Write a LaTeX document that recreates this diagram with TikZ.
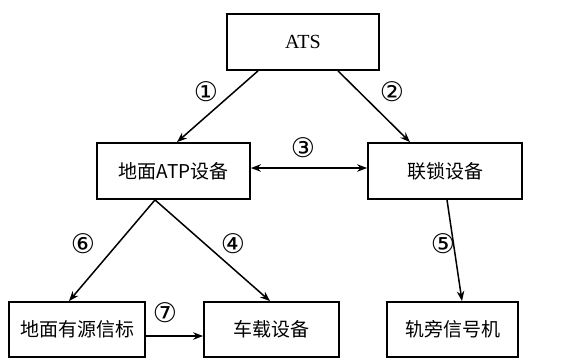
\documentclass[tikz,border=0pt]{standalone}
\usepackage{fontspec}
\setmainfont{Liberation Serif}
\newfontfamily\cjk{Noto Sans CJK SC}
\newfontfamily\symf{DejaVu Sans}
\usetikzlibrary{arrows.meta}
\begin{document}
\begin{tikzpicture}[x=1pt,y=-1pt,
  box/.style={draw, line width=1.8pt, inner sep=0pt, font=\cjk\fontsize{19}{19}\selectfont},
  conn/.style={line width=1.5pt, -{Stealth[length=10pt,width=7.5pt]}},
  num/.style={font=\symf\fontsize{27}{27}\selectfont, inner sep=0pt}]
\useasboundingbox[fill=white] (0,0) rectangle (585,359);
\node[box, minimum width=152pt, minimum height=56pt, font=\fontsize{20}{20}\selectfont] (ats) at (303,42) {ATS};
\node[box, minimum width=153pt, minimum height=56pt] (atp) at (173.5,171) {地面ATP设备};
\node[box, minimum width=154pt, minimum height=56pt] (lian) at (445,171) {联锁设备};
\node[box, minimum width=136pt, minimum height=55pt] (bea) at (77,329.5) {地面有源信标};
\node[box, minimum width=135pt, minimum height=55pt] (veh) at (271.5,329.5) {车载设备};
\node[box, minimum width=131pt, minimum height=55pt] (sig) at (452.5,329.5) {轨旁信号机};

\draw[conn] ([xshift=-45pt]ats.south) -- ([xshift=3.5pt]atp.north);
\draw[conn] ([xshift=35pt]ats.south) -- ([xshift=-35pt]lian.north);
\draw[line width=1.5pt, {Stealth[length=10pt,width=7.5pt]}-{Stealth[length=10pt,width=7.5pt]}] ([yshift=3pt]atp.east) -- ([yshift=3pt]lian.west);
\draw[conn] ([xshift=-18.5pt]atp.south) -- ([xshift=-8pt]bea.north);
\draw[conn] ([xshift=-18.5pt]atp.south) -- ([xshift=-1.5pt]veh.north);
\draw[conn] ([xshift=2pt]lian.south) -- ([xshift=9.5pt]sig.north);
\draw[conn] ([yshift=-6.5pt]bea.east) -- ([yshift=-6.5pt]veh.west);

\node[num] (n1) at (206,92) {①};
\node[num] (n2) at (392,92) {②};
\node[num] (n3) at (303,148) {③};
\node[num] (n4) at (233,244) {④};
\node[num] (n5) at (443,244) {⑤};
\node[num] (n6) at (83,244) {⑥};
\node[num] (n7) at (165,313) {⑦};
\end{tikzpicture}
\end{document}
